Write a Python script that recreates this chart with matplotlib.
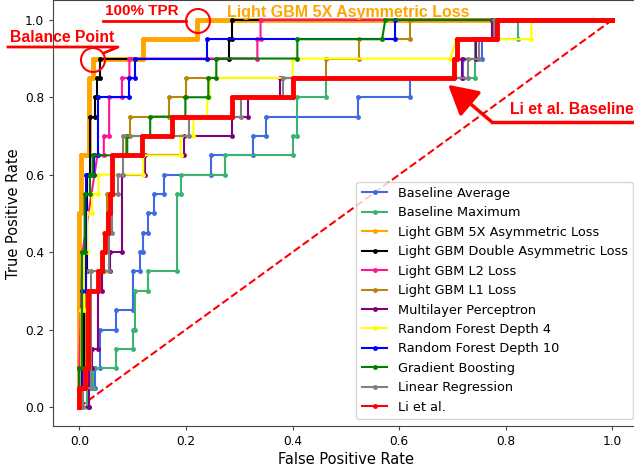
import matplotlib
matplotlib.use("Agg")
import matplotlib.pyplot as plt
from matplotlib.patches import Circle, FancyArrowPatch
from matplotlib.lines import Line2D

# ROC curves (FPR, TPR)
bavg_fpr = [0, 0.018, 0.018, 0.030, 0.030, 0.038, 0.038, 0.069, 0.069, 0.101, 0.101, 0.114, 0.114, 0.120, 0.120,
            0.128, 0.128, 0.141, 0.141, 0.158, 0.158, 0.248, 0.248, 0.326, 0.326, 0.351, 0.351, 0.523, 0.523,
            0.621, 0.621, 0.720, 0.720, 0.755, 0.755, 0.780, 0.780, 1.0]
bavg_tpr = [0, 0, 0.05, 0.05, 0.10, 0.10, 0.20, 0.20, 0.25, 0.25, 0.35, 0.35, 0.40, 0.40, 0.45, 0.45, 0.50, 0.50,
            0.55, 0.55, 0.60, 0.60, 0.65, 0.65, 0.70, 0.70, 0.75, 0.75, 0.80, 0.80, 0.85, 0.85, 0.90, 0.90,
            0.95, 0.95, 1.0, 1.0]

bmax_fpr = [0, 0.015, 0.015, 0.026, 0.026, 0.069, 0.069, 0.101, 0.101, 0.105, 0.105, 0.128, 0.128, 0.184, 0.184,
            0.191, 0.191, 0.274, 0.274, 0.401, 0.401, 0.409, 0.409, 0.463, 0.463, 0.743, 0.743, 0.822, 0.822, 1.0]
bmax_tpr = [0, 0, 0.05, 0.05, 0.10, 0.10, 0.15, 0.15, 0.20, 0.20, 0.30, 0.30, 0.35, 0.35, 0.55, 0.55, 0.60, 0.60,
            0.65, 0.65, 0.70, 0.70, 0.80, 0.80, 0.85, 0.85, 0.95, 0.95, 1.0, 1.0]

lgbm5x_fpr = [0, 0, 0.004, 0.004, 0.019, 0.019, 0.026, 0.026, 0.120, 0.120, 0.221, 0.221, 1.0]
lgbm5x_tpr = [0, 0.50, 0.50, 0.65, 0.65, 0.85, 0.85, 0.90, 0.90, 0.95, 0.95, 1.0, 1.0]

lgbmdbl_fpr = [0, 0, 0.008, 0.008, 0.015, 0.015, 0.021, 0.021, 0.030, 0.030, 0.034, 0.034, 0.039, 0.039,
               0.281, 0.281, 0.287, 0.287, 1.0]
lgbmdbl_tpr = [0, 0.10, 0.10, 0.35, 0.35, 0.60, 0.60, 0.75, 0.75, 0.80, 0.80, 0.85, 0.85, 0.90, 0.90,
               0.95, 0.95, 1.0, 1.0]

lgbml2_fpr = [0, 0, 0.006, 0.034, 0.046, 0.046, 0.056, 0.056, 0.080, 0.080, 0.094, 0.094, 0.334, 0.334,
              0.340, 0.340, 1.0]
lgbml2_tpr = [0, 0.10, 0.40, 0.65, 0.65, 0.70, 0.70, 0.80, 0.80, 0.85, 0.85, 0.90, 0.90, 0.95, 0.95, 1.0, 1.0]

lgbml1_fpr = [0, 0.004, 0.004, 0.012, 0.012, 0.046, 0.046, 0.052, 0.052, 0.064, 0.064, 0.088, 0.088, 0.096,
              0.096, 0.169, 0.169, 0.200, 0.200, 0.463, 0.463, 0.525, 0.525, 0.621, 0.621, 1.0]
lgbml1_tpr = [0, 0, 0.10, 0.10, 0.35, 0.35, 0.45, 0.45, 0.55, 0.55, 0.65, 0.65, 0.70, 0.70, 0.75, 0.75, 0.80,
              0.80, 0.85, 0.85, 0.90, 0.90, 0.95, 0.95, 1.0, 1.0]

mlp_fpr = [0, 0.019, 0.019, 0.023, 0.023, 0.036, 0.036, 0.043, 0.043, 0.058, 0.058, 0.081, 0.081, 0.124, 0.124,
           0.197, 0.197, 0.287, 0.287, 0.317, 0.317, 0.377, 0.377, 0.718, 0.718, 0.745, 0.745, 0.775, 0.775, 1.0]
mlp_tpr = [0, 0, 0.10, 0.10, 0.15, 0.15, 0.30, 0.30, 0.35, 0.35, 0.40, 0.40, 0.60, 0.60, 0.65, 0.65, 0.70, 0.70,
           0.75, 0.75, 0.80, 0.80, 0.85, 0.85, 0.90, 0.90, 0.95, 0.95, 1.0, 1.0]

rf4_fpr = [0, 0.004, 0.004, 0.009, 0.009, 0.015, 0.015, 0.024, 0.024, 0.036, 0.036, 0.120, 0.120, 0.190, 0.190,
           0.214, 0.214, 0.240, 0.240, 0.244, 0.244, 0.400, 0.400, 0.696, 0.707, 0.848, 0.848, 1.0]
rf4_tpr = [0, 0, 0.25, 0.25, 0.40, 0.40, 0.50, 0.50, 0.55, 0.55, 0.60, 0.60, 0.65, 0.65, 0.70, 0.70, 0.75, 0.75,
           0.80, 0.80, 0.85, 0.85, 0.90, 0.90, 0.95, 0.95, 1.0, 1.0]

rf10_fpr = [0, 0, 0.006, 0.006, 0.013, 0.013, 0.027, 0.027, 0.036, 0.036, 0.094, 0.094, 0.104, 0.104, 0.240,
            0.240, 0.593, 0.593, 1.0]
rf10_tpr = [0, 0.05, 0.05, 0.30, 0.30, 0.60, 0.60, 0.65, 0.65, 0.80, 0.80, 0.85, 0.85, 0.90, 0.90, 0.95, 0.95,
            1.0, 1.0]

gb_fpr = [0, 0, 0.005, 0.005, 0.010, 0.010, 0.020, 0.020, 0.025, 0.025, 0.090, 0.090, 0.133, 0.133, 0.199,
          0.199, 0.242, 0.242, 0.257, 0.257, 0.409, 0.409, 0.568, 0.574, 1.0]
gb_tpr = [0, 0.10, 0.10, 0.40, 0.40, 0.55, 0.55, 0.60, 0.60, 0.65, 0.65, 0.70, 0.70, 0.75, 0.75, 0.80, 0.80,
          0.85, 0.85, 0.90, 0.90, 0.95, 0.95, 1.0, 1.0]

lr_fpr = [0, 0.007, 0.007, 0.022, 0.022, 0.056, 0.056, 0.062, 0.062, 0.073, 0.073, 0.082, 0.082, 0.205, 0.205,
          0.304, 0.304, 0.383, 0.383, 0.730, 0.730, 0.750, 0.750, 0.778, 0.778, 1.0]
lr_tpr = [0, 0, 0.05, 0.05, 0.35, 0.35, 0.45, 0.45, 0.55, 0.55, 0.60, 0.60, 0.70, 0.70, 0.75, 0.75, 0.80, 0.80,
          0.85, 0.85, 0.90, 0.90, 0.95, 0.95, 1.0, 1.0]

li_fpr = [0, 0, 0.011, 0.011, 0.016, 0.016, 0.036, 0.036, 0.043, 0.043, 0.049, 0.049, 0.054, 0.054, 0.058,
          0.058, 0.062, 0.062, 0.118, 0.118, 0.174, 0.174, 0.287, 0.287, 0.400, 0.400, 0.702, 0.702, 0.709,
          0.709, 0.784, 0.784, 1.0]
li_tpr = [0, 0.05, 0.05, 0.10, 0.10, 0.30, 0.30, 0.35, 0.35, 0.40, 0.40, 0.45, 0.45, 0.50, 0.50, 0.55, 0.55,
          0.65, 0.65, 0.70, 0.70, 0.75, 0.75, 0.80, 0.80, 0.85, 0.85, 0.90, 0.90, 0.95, 0.95, 1.0, 1.0]

curves = [
    ("Baseline Average", bavg_fpr, bavg_tpr, "royalblue", 1.5),
    ("Baseline Maximum", bmax_fpr, bmax_tpr, "mediumseagreen", 1.5),
    ("Light GBM 5X Asymmetric Loss", lgbm5x_fpr, lgbm5x_tpr, "orange", 3.5),
    ("Light GBM Double Asymmetric Loss", lgbmdbl_fpr, lgbmdbl_tpr, "black", 1.5),
    ("Light GBM L2 Loss", lgbml2_fpr, lgbml2_tpr, "deeppink", 1.5),
    ("Light GBM L1 Loss", lgbml1_fpr, lgbml1_tpr, "darkgoldenrod", 1.5),
    ("Multilayer Perceptron", mlp_fpr, mlp_tpr, "purple", 1.5),
    ("Random Forest Depth 4", rf4_fpr, rf4_tpr, "yellow", 1.5),
    ("Random Forest Depth 10", rf10_fpr, rf10_tpr, "blue", 1.5),
    ("Gradient Boosting", gb_fpr, gb_tpr, "green", 1.5),
    ("Linear Regression", lr_fpr, lr_tpr, "gray", 1.5),
    ("Li et al.", li_fpr, li_tpr, "red", 3.5),
]

fig = plt.figure(figsize=(6.34, 4.67), dpi=100)
ax = fig.add_axes([0.083, 0.087, 0.925, 0.912])

ax.plot([0, 1], [0, 1], "r--", lw=1.5)
handles = []
for name, fpr, tpr, col, lw in curves:
    ax.plot(fpr, tpr, color=col, lw=lw, marker="o", ms=2.5)
    handles.append(Line2D([0], [0], color=col, lw=1.5, marker="o", ms=2.5, label=name))

ax.set_xlabel("False Positive Rate", fontsize=10.5, labelpad=3)
ax.set_ylabel("True Positive Rate", fontsize=10.5, labelpad=3)
ax.tick_params(labelsize=8.7, length=3, pad=3, color="#444444")
for s in ax.spines.values():
    s.set_color("#444444")
ax.legend(handles=handles, loc="lower right", fontsize=9.3,
          bbox_to_anchor=(633 / 634, 1 - 419 / 467), bbox_transform=fig.transFigure, borderaxespad=0)


# annotations, positioned in figure pixels
def P(x, y):
    return (x / 100, (467 - y) / 100)


T = fig.dpi_scale_trans
bold = dict(family="Liberation Sans", fontweight="bold", va="center", transform=T)

fig.text(*P(105, 11), "100% TPR", color="red", fontsize=11, **bold)
fig.add_artist(Line2D(*zip(P(103, 21), P(186, 21)), color="red", lw=2, transform=T))
fig.add_artist(Circle(P(198, 21), 0.12, fill=False, ec="red", lw=1.5, transform=T))

fig.text(*P(10, 38), "Balance Point", color="red", fontsize=11.3, **bold)
fig.add_artist(Line2D(*zip(P(8, 47), P(118, 47), P(104, 53)), color="red", lw=2, transform=T))
fig.add_artist(Circle(P(93, 60), 0.12, fill=False, ec="red", lw=1.5, transform=T))

fig.text(*P(227, 12), "Light GBM 5X Asymmetric Loss", color="orange", fontsize=11.5, **bold)

fig.text(*P(510, 109), "Li et al. Baseline", color="red", fontsize=11.3, **bold)
fig.add_artist(Line2D(*zip(P(492, 122), P(640, 122)), color="red", lw=2.5, transform=T))
fig.add_artist(FancyArrowPatch(P(493, 123), P(446, 83), arrowstyle="-|>,head_length=0.9,head_width=0.5",
                               mutation_scale=20, color="red", lw=2.5, transform=T))

fig.savefig("out.png", dpi=100)
